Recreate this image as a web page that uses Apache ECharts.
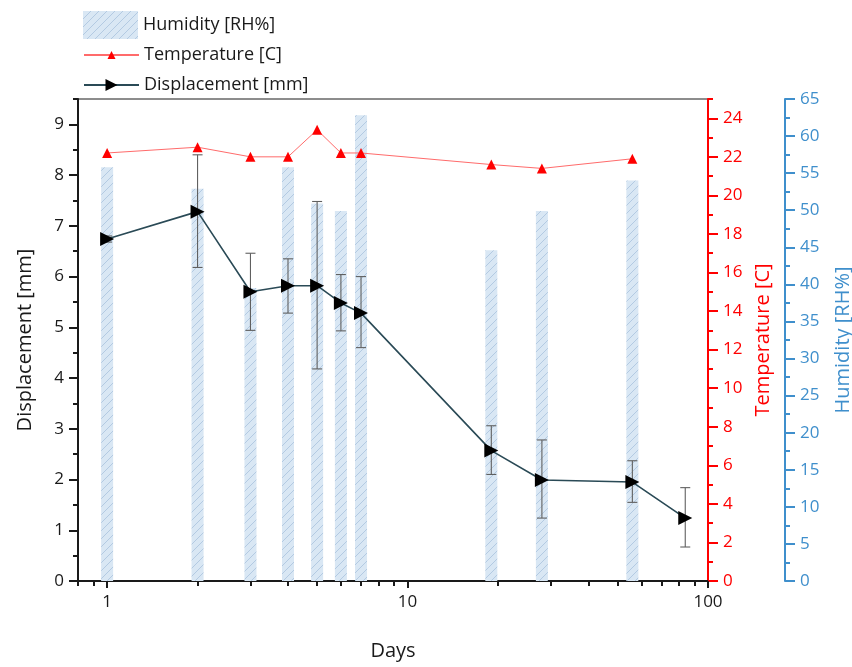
<!DOCTYPE html>
<html>
<head>
<meta charset="utf-8">
<script src="https://cdn.jsdelivr.net/npm/echarts@6/dist/echarts.min.js"></script>
<style>html,body{margin:0;padding:0;background:#fff;}#c{width:852px;height:667px;}</style>
</head>
<body>
<div id="c"></div>
<script>
// ---- data ----
var days = [1, 2, 3, 4, 5, 6, 7, 19, 28, 56, 84];
var displacement = [6.74, 7.28, 5.7, 5.82, 5.82, 5.48, 5.28, 2.57, 1.99, 1.95, 1.24];
var dispLow  = [6.68, 6.18, 4.94, 5.28, 4.18, 4.93, 4.6, 2.1, 1.24, 1.55, 0.67];
var dispHigh = [6.80, 8.40, 6.46, 6.35, 7.48, 6.04, 6.0, 3.06, 2.78, 2.37, 1.84];
var tempDays = [1, 2, 3, 4, 5, 6, 7, 19, 28, 56];
var temperature = [22.2, 22.5, 22.0, 22.0, 23.4, 22.2, 22.2, 21.6, 21.4, 21.9];
var humDays = [1, 2, 3, 4, 5, 6, 7, 19, 28, 56];
var humidity = [55.8, 52.9, 39.5, 55.8, 50.9, 49.9, 62.8, 44.6, 49.9, 54.0];
var xMajorTicks = [1, 10, 100];
var xMinorTicks = [0.8, 0.9, 2, 3, 4, 5, 6, 7, 8, 9, 20, 30, 40, 50, 60, 70, 80, 90];
var dispMajorTicks = [0, 1, 2, 3, 4, 5, 6, 7, 8, 9];
var dispMinorTicks = [0.5, 1.5, 2.5, 3.5, 4.5, 5.5, 6.5, 7.5, 8.5, 9.5];
var tempMajorTicks = [0, 2, 4, 6, 8, 10, 12, 14, 16, 18, 20, 22, 24];
var tempMinorTicks = [1, 3, 5, 7, 9, 11, 13, 15, 17, 19, 21, 23, 25];

var FONT = 'Open Sans';
var BLK = '#1a1a1a';
var RED = '#ff0000';
var BLUE = '#3f8fcc';

function zip(a, b) { return a.map(function (v, i) { return [v, b[i]]; }); }
var errData = days.map(function (d, i) { return [d, dispLow[i], dispHigh[i]]; });

// hatch pattern "/" for humidity bars
function makeHatch() {
  var s = 8;
  var c = document.createElement('canvas');
  c.width = s; c.height = s;
  var g = c.getContext('2d');
  g.fillStyle = '#d9e7f4';
  g.fillRect(0, 0, s, s);
  g.strokeStyle = 'rgba(165,192,220,0.75)';
  g.lineWidth = 1;
  g.beginPath();
  g.moveTo(-1, s + 1); g.lineTo(s + 1, -1);
  g.moveTo(-1 - s, s + 1); g.lineTo(1, -1);
  g.moveTo(s - 1, 2 * s + 1); g.lineTo(2 * s + 1, s - 1);
  g.stroke();
  return c;
}
var hatch = {image: makeHatch(), repeat: 'repeat'};

var chart = echarts.init(document.getElementById('c'), null, {renderer: 'canvas'});

var baseY = {
  type: 'value', splitLine: {show: false}, axisLine: {onZero: false}
};

var option = {
  animation: false,
  backgroundColor: '#fff',
  grid: {left: 78, right: 144, top: 99, bottom: 86, show: true, borderColor: BLK, borderWidth: 1,
         backgroundColor: 'transparent', containLabel: false, outerBoundsMode: 'none'},
  legend: [
    {data: [{name: 'Humidity [RH%]', icon: 'rect'}], left: 78, top: 6, itemWidth: 55, itemHeight: 28, itemGap: 0,
     textStyle: {fontFamily: FONT, fontSize: 18, color: BLK}},
    {data: ['Temperature [C]'], left: 78, top: 41, itemWidth: 55, itemHeight: 10,
     textStyle: {fontFamily: FONT, fontSize: 18, color: BLK}},
    {data: ['Displacement [mm]'], left: 78, top: 71, itemWidth: 55, itemHeight: 15,
     textStyle: {fontFamily: FONT, fontSize: 18, color: BLK}}
  ],
  xAxis: [
    {type: 'log', logBase: 10, min: 0.8, max: 100, position: 'bottom',
     name: 'Days', nameLocation: 'middle', nameGap: 60,
     nameTextStyle: {fontFamily: FONT, fontSize: 20, color: BLK},
     axisLine: {onZero: false, lineStyle: {color: BLK, width: 2}},
     axisTick: {show: true, inside: false, length: 7, customValues: xMajorTicks, lineStyle: {color: BLK, width: 2}},
     axisLabel: {customValues: xMajorTicks, margin: 13, fontFamily: FONT, fontSize: 17, color: BLK},
     minorTick: {show: false}, splitLine: {show: false}},
    {type: 'log', logBase: 10, min: 0.8, max: 100, position: 'bottom', offset: 0,
     axisLine: {show: false, onZero: false},
     axisTick: {show: true, inside: false, length: 5, customValues: xMinorTicks, lineStyle: {color: BLK, width: 2}},
     axisLabel: {show: false}, splitLine: {show: false}}
  ],
  yAxis: [
    Object.assign({}, baseY, {
      min: 0, max: 9.5, interval: 1, position: 'left', offset: 0,
      name: 'Displacement [mm]', nameLocation: 'middle', nameGap: 43,
      nameTextStyle: {fontFamily: FONT, fontSize: 20, color: BLK},
      axisLine: {show: true, onZero: false, lineStyle: {color: BLK, width: 2}},
      axisTick: {show: true, length: 9, customValues: dispMajorTicks, lineStyle: {color: BLK, width: 2}},
      axisLabel: {customValues: dispMajorTicks, margin: 14, fontFamily: FONT, fontSize: 17, color: BLK}
    }),
    Object.assign({}, baseY, {
      min: 0, max: 25, interval: 1, position: 'right', offset: 0,
      name: 'Temperature [C]', nameLocation: 'middle', nameGap: 43,
      nameTextStyle: {fontFamily: FONT, fontSize: 20, color: RED},
      axisLine: {show: true, onZero: false, lineStyle: {color: RED, width: 2}},
      axisTick: {show: true, length: 10, customValues: tempMajorTicks, lineStyle: {color: RED, width: 2}},
      axisLabel: {customValues: tempMajorTicks, margin: 15, fontFamily: FONT, fontSize: 17, color: RED}
    }),
    Object.assign({}, baseY, {
      min: 0, max: 65, interval: 5, position: 'right', offset: 77,
      name: 'Humidity [RH%]', nameLocation: 'middle', nameGap: 48,
      nameTextStyle: {fontFamily: FONT, fontSize: 20, color: BLUE},
      axisLine: {show: true, onZero: false, lineStyle: {color: BLUE, width: 2}},
      axisTick: {show: true, length: 10, lineStyle: {color: BLUE, width: 2}},
      minorTick: {show: true, splitNumber: 2, length: 5, lineStyle: {color: BLUE, width: 2}},
      axisLabel: {margin: 15, fontFamily: FONT, fontSize: 17, color: BLUE}
    }),
    Object.assign({}, baseY, {
      min: 0, max: 9.5, interval: 1, position: 'left', offset: 0,
      axisLine: {show: false, onZero: false},
      axisTick: {show: true, length: 5, customValues: dispMinorTicks, lineStyle: {color: BLK, width: 2}},
      axisLabel: {show: false}
    }),
    Object.assign({}, baseY, {
      min: 0, max: 25, interval: 1, position: 'right', offset: 0,
      axisLine: {show: false, onZero: false},
      axisTick: {show: true, length: 5, customValues: tempMinorTicks, lineStyle: {color: RED, width: 2}},
      axisLabel: {show: false}
    })
  ],
  series: [
    {
      name: 'Humidity [RH%]', type: 'bar', xAxisIndex: 0, yAxisIndex: 2,
      barWidth: 12, z: 1,
      data: zip(humDays, humidity),
      itemStyle: {color: hatch}
    },
    {
      name: 'errors', type: 'custom', xAxisIndex: 0, yAxisIndex: 0, z: 3,
      data: errData,
      renderItem: function (params, api) {
        var x = api.value(0);
        var top = api.coord([x, api.value(2)]);
        var bot = api.coord([x, api.value(1)]);
        var hw = 5;
        var st = {stroke: '#606060', lineWidth: 1.1};
        return {
          type: 'group',
          children: [
            {type: 'line', shape: {x1: top[0], y1: top[1], x2: bot[0], y2: bot[1]}, style: st},
            {type: 'line', shape: {x1: top[0] - hw, y1: top[1], x2: top[0] + hw, y2: top[1]}, style: st},
            {type: 'line', shape: {x1: bot[0] - hw, y1: bot[1], x2: bot[0] + hw, y2: bot[1]}, style: st}
          ]
        };
      }
    },
    {
      name: 'Temperature [C]', type: 'line', xAxisIndex: 0, yAxisIndex: 1, z: 4,
      data: zip(tempDays, temperature),
      symbol: 'triangle', symbolSize: 10,
      lineStyle: {color: '#ff6b6b', width: 1},
      itemStyle: {color: RED}
    },
    {
      name: 'Displacement [mm]', type: 'line', xAxisIndex: 0, yAxisIndex: 0, z: 5,
      data: zip(days, displacement),
      symbol: 'triangle', symbolSize: 14, symbolRotate: -90,
      lineStyle: {color: '#2a4a56', width: 1.6},
      itemStyle: {color: '#000'}
    }
  ]
};
chart.setOption(option);
</script>
</body>
</html>
